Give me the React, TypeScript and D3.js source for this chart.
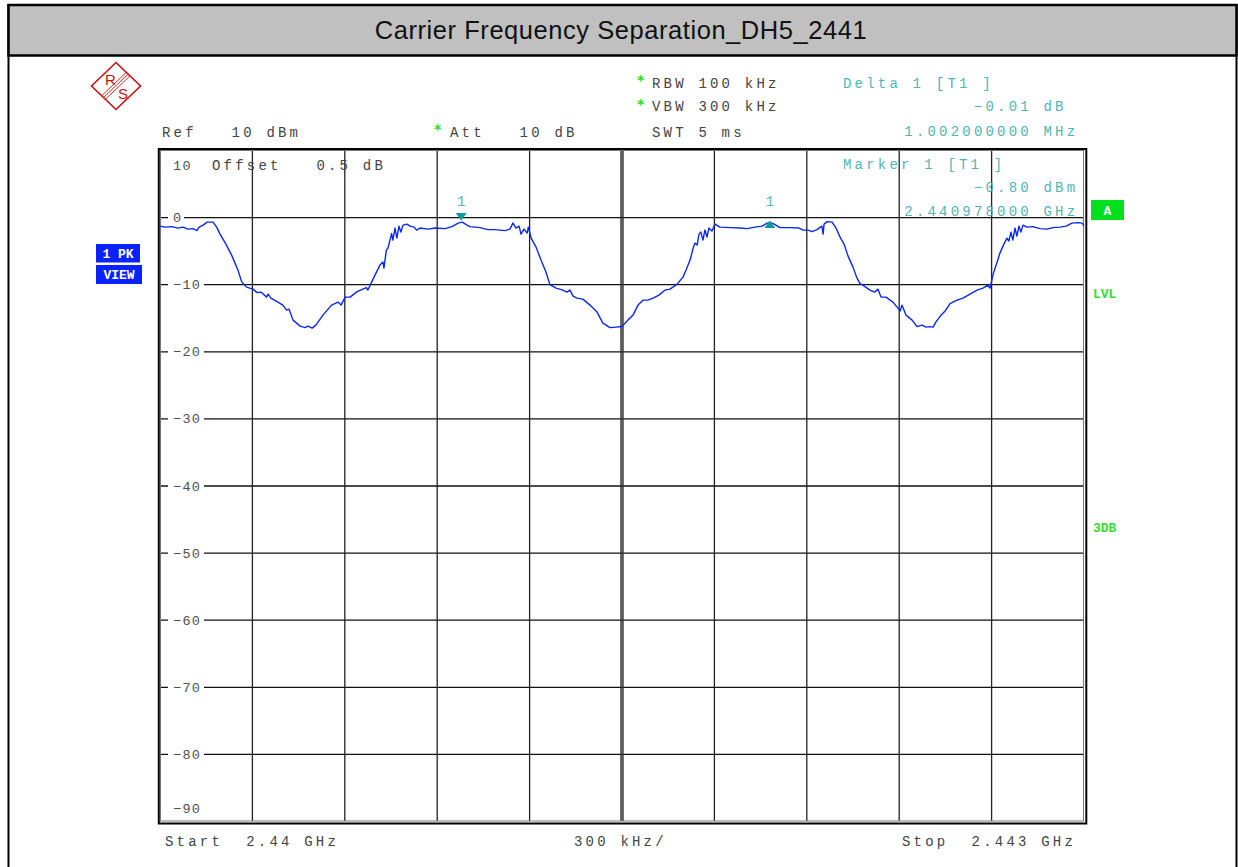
import * as d3 from "d3";
import { useEffect, useRef } from "react";

const title = "Carrier Frequency Separation_DH5_2441";

// sweep settings
const startGHz = 2.44;
const spanMHz = 3;
const refDbm = 10;
const bottomDbm = -90;
const levelGrid = [0, -10, -20, -30, -40, -50, -60, -70, -80];
const freqGridMHz = [0.3, 0.6, 0.9, 1.2, 1.5, 1.8, 2.1, 2.4, 2.7];

// trace (offset from start in MHz, level in dBm)
const traceMHz = [
  0, 0.016, 0.039, 0.058, 0.075, 0.091, 0.107, 0.12, 0.127, 0.14, 0.153, 0.172, 0.184, 0.195, 0.214, 0.234,
  0.253, 0.265, 0.281, 0.302, 0.315, 0.328, 0.346, 0.351, 0.36, 0.38, 0.399, 0.411, 0.419, 0.432, 0.455, 0.471,
  0.481, 0.494, 0.506, 0.529, 0.557, 0.578, 0.588, 0.601, 0.617, 0.64, 0.67, 0.675, 0.687, 0.714, 0.724, 0.727,
  0.735, 0.74, 0.752, 0.756, 0.763, 0.769, 0.776, 0.782, 0.789, 0.802, 0.812, 0.825, 0.833, 0.844, 0.87, 0.893,
  0.925, 0.948, 0.968, 0.981, 0.997, 1.006, 1.039, 1.065, 1.088, 1.12, 1.136, 1.146, 1.156, 1.166, 1.172, 1.182,
  1.192, 1.196, 1.205, 1.221, 1.237, 1.253, 1.266, 1.286, 1.308, 1.321, 1.331, 1.341, 1.354, 1.373, 1.396, 1.419,
  1.438, 1.461, 1.481, 1.5, 1.519, 1.536, 1.552, 1.568, 1.584, 1.601, 1.62, 1.64, 1.656, 1.679, 1.698, 1.708,
  1.721, 1.731, 1.737, 1.744, 1.75, 1.756, 1.763, 1.769, 1.776, 1.782, 1.792, 1.802, 1.818, 1.851, 1.883, 1.906,
  1.932, 1.955, 1.971, 1.981, 1.994, 2.013, 2.045, 2.075, 2.088, 2.104, 2.117, 2.133, 2.149, 2.153, 2.156, 2.166,
  2.182, 2.195, 2.208, 2.221, 2.234, 2.25, 2.263, 2.273, 2.282, 2.305, 2.321, 2.331, 2.341, 2.357, 2.38, 2.396,
  2.403, 2.409, 2.422, 2.442, 2.458, 2.474, 2.487, 2.5, 2.51, 2.519, 2.532, 2.549, 2.565, 2.588, 2.607, 2.63,
  2.653, 2.672, 2.688, 2.695, 2.705, 2.718, 2.727, 2.74, 2.75, 2.756, 2.763, 2.769, 2.776, 2.782, 2.789, 2.795,
  2.802, 2.815, 2.834, 2.857, 2.88, 2.899, 2.922, 2.942, 2.961, 2.981, 2.994, 3.0,
];
const traceDbm = [
  -1.27, -1.42, -1.34, -1.56, -1.42, -1.71, -1.64, -1.94, -1.42, -1.12, -0.67, -0.67, -1.42, -2.46, -3.95, -5.74,
  -7.82, -9.54, -10.36, -10.66, -11.18, -11.1, -11.85, -11.4, -12.0, -12.52, -13.04, -13.79, -13.64, -15.28, -16.17, -16.39,
  -16.17, -16.47, -16.02, -14.53, -13.04, -12.59, -13.04, -11.85, -11.85, -11.03, -10.43, -10.8, -9.61, -7.08, -6.63, -7.53,
  -4.84, -4.55, -2.38, -3.35, -1.56, -3.06, -1.27, -2.16, -1.12, -0.97, -1.27, -1.42, -1.86, -1.56, -1.71, -1.56,
  -1.64, -1.34, -0.82, -0.67, -1.12, -1.34, -1.49, -1.79, -1.79, -1.94, -1.71, -0.82, -1.56, -1.27, -2.46, -1.71,
  -2.31, -1.42, -3.06, -4.4, -6.33, -8.12, -9.99, -10.51, -10.8, -11.1, -10.8, -11.7, -12.0, -12.15, -13.04, -14.08,
  -15.72, -16.39, -16.32, -16.24, -15.28, -14.53, -13.04, -12.3, -12.3, -12.0, -11.55, -10.8, -10.66, -9.91, -8.87, -7.82,
  -6.33, -4.55, -3.8, -4.1, -2.46, -2.16, -3.35, -1.86, -2.9, -1.56, -2.01, -0.97, -1.42, -1.49, -1.56, -1.64,
  -1.42, -1.27, -0.82, -0.75, -0.97, -1.49, -1.49, -1.56, -1.86, -1.86, -2.09, -1.79, -1.27, -2.46, -0.97, -0.6,
  -0.67, -1.56, -2.91, -3.95, -5.74, -7.38, -9.02, -9.84, -10.06, -10.8, -11.1, -10.66, -11.85, -11.85, -12.59, -13.49,
  -13.93, -13.04, -14.53, -15.28, -16.24, -16.02, -16.32, -16.24, -16.32, -15.57, -14.75, -13.93, -12.82, -12.3, -12.0, -11.4,
  -10.8, -10.51, -10.06, -10.51, -8.42, -6.63, -5.29, -3.95, -3.06, -3.5, -2.16, -3.35, -1.56, -2.76, -1.27, -2.16,
  -1.12, -1.42, -1.34, -1.64, -1.71, -1.49, -1.42, -1.27, -0.82, -0.75, -0.82, -1.19,
];

// markers: marker 1 and delta 1
const markerMHz = [0.978, 1.98];
const markerDbm = [-0.8, -0.81];
const markerDir = ["down", "up"];

const setupLines = ["RBW 100 kHz", "VBW 300 kHz", "SWT 5 ms"];
const deltaLines = ["Delta 1 [T1 ]", "-0.01 dB", "1.002000000 MHz"];
const markerLines = ["Marker 1 [T1 ]", "-0.80 dBm", "2.440978000 GHz"];

const MONO = "'Liberation Mono', 'DejaVu Sans Mono', monospace";

export default function App() {
  const ref = useRef<SVGSVGElement>(null);

  useEffect(() => {
    if (!ref.current) return;
    const el = ref.current;
    d3.select(el).selectAll("*").remove();

    const W = 1238;
    const H = 867;
    const grey = "#444";
    const teal = "#4fb6b6";
    const green = "#1edc1e";

    const svg = d3.select(el).attr("width", W).attr("height", H).attr("viewBox", `0 0 ${W} ${H}`);
    svg.append("rect").attr("width", W).attr("height", H).attr("fill", "#fff");

    const mono = (x: number, y: number, s: string, color = grey, size = 14) =>
      svg
        .append("text")
        .attr("x", x)
        .attr("y", y)
        .attr("fill", color)
        .attr("font-family", MONO)
        .attr("font-size", size)
        .attr("letter-spacing", 3.2)
        .style("white-space", "pre")
        .text(s.replace(/-/g, "\u2212"));

    // outer frame + title bar
    svg.append("line").attr("x1", 8.5).attr("x2", 8.5).attr("y1", 4).attr("y2", H).attr("stroke", "#000").attr("stroke-width", 2);
    svg.append("line").attr("x1", 1236.5).attr("x2", 1236.5).attr("y1", 4).attr("y2", H).attr("stroke", "#000").attr("stroke-width", 2);
    svg.append("rect").attr("x", 8.5).attr("y", 5).attr("width", 1228).attr("height", 50.5)
      .attr("fill", "#c0c0c0").attr("stroke", "#000").attr("stroke-width", 2.5);
    svg.append("text").attr("x", 621).attr("y", 39).attr("text-anchor", "middle")
      .attr("font-family", "'Liberation Sans', Arial, sans-serif").attr("font-size", 25.5)
      .attr("letter-spacing", 0.55).attr("fill", "#111").text(title);

    // R&S logo
    const logo = svg.append("g").attr("transform", "translate(116,86)");
    const red = "#cc1111";
    logo.append("path").attr("d", "M0,-23.5L24.5,0L0,23.5L-24.5,0Z").attr("fill", "#fff").attr("stroke", red).attr("stroke-width", 1.6);
    [-1.8, 0, 1.8].forEach(o => {
      logo.append("line").attr("x1", 12.3 + o).attr("y1", -12 + o).attr("x2", -12.5 + o).attr("y2", 11.5 + o)
        .attr("stroke", red).attr("stroke-width", 0.9);
    });
    logo.append("text").attr("x", -11).attr("y", -1).attr("fill", red).attr("font-family", "'Liberation Sans', sans-serif").attr("font-size", 15).text("R");
    logo.append("text").attr("x", 2).attr("y", 13).attr("fill", red).attr("font-family", "'Liberation Sans', sans-serif").attr("font-size", 15).text("S");

    // header texts
    mono(162, 136.5, "Ref   10 dBm");
    const star = (x: number, y: number) =>
      svg.append("text").attr("x", x).attr("y", y).attr("fill", green).attr("font-family", "'DejaVu Sans', sans-serif")
        .attr("font-size", 14).attr("font-weight", 700).text("*");
    star(434, 134);
    mono(450, 136.5, "Att   10 dB");
    const rowY = [87.5, 111, 136.5];
    setupLines.forEach((s, i) => {
      if (i < 2) star(637, rowY[i] - 2.5);
      mono(652, rowY[i], s);
    });
    const col = 11.6;
    const placeRight = (lines: string[], ys: number[], unitX: number, x0: number) => {
      mono(x0, ys[0], lines[0], teal);
      lines.slice(1).forEach((s, i) => {
        const num = s.split(" ")[0];
        mono(unitX - (num.length + 1) * col, ys[i + 1], s, teal);
      });
    };
    placeRight(deltaLines, [88, 111, 136], 1043.5, 843);

    // plot area
    const x = d3.scaleLinear().domain([0, spanMHz]).range([160, 1084]);
    const y = d3.scaleLinear().domain([bottomDbm, refDbm]).range([821.5, 150.5]);

    const g = svg.append("g");
    g.selectAll(".hgrid").data(levelGrid).join("line")
      .attr("x1", 160).attr("x2", 1084).attr("y1", d => y(d)).attr("y2", d => y(d))
      .attr("stroke", "#111").attr("stroke-width", 1.3);
    g.selectAll(".vgrid").data(freqGridMHz).join("line")
      .attr("x1", d => x(d)).attr("x2", d => x(d)).attr("y1", 150).attr("y2", 821)
      .attr("stroke", "#222").attr("stroke-width", 1.3);
    // centre line is drawn double
    [-1.2, 1.2].forEach(o => {
      g.append("line").attr("x1", x(spanMHz / 2) + o).attr("x2", x(spanMHz / 2) + o).attr("y1", 150).attr("y2", 821)
        .attr("stroke", "#333").attr("stroke-width", 1);
    });

    // frame (double line)
    g.append("rect").attr("x", 160.5).attr("y", 150.5).attr("width", 923).attr("height", 670.5)
      .attr("fill", "none").attr("stroke", "#777").attr("stroke-width", 1);
    g.append("rect").attr("x", 158.8).attr("y", 149).attr("width", 927.5).attr("height", 674.5)
      .attr("fill", "none").attr("stroke", "#000").attr("stroke-width", 2);

    // level labels
    const levelLabel = (v: number, yy: number, gap: boolean) => {
      const s = v < 0 ? `\u2212${-v}` : `${v}`;
      if (gap) {
        g.append("rect").attr("x", 168).attr("y", yy - 6).attr("width", s.length * 10 + 6).attr("height", 12).attr("fill", "#fff");
      }
      g.append("text").attr("x", 173).attr("y", yy + 4.5).attr("fill", "#505050").attr("font-family", MONO)
        .attr("font-size", 13.5).attr("letter-spacing", 1.3).text(s);
    };
    levelGrid.forEach(v => levelLabel(v, y(v), true));
    levelLabel(refDbm, 165, false);
    levelLabel(bottomDbm, 808, false);
    mono(212, 169.5, "Offset   0.5 dB");

    // marker readout sits over the grid
    placeRight(markerLines, [168.5, 191.5, 216], 1043.5, 843);

    // trace
    const line = d3.line<number>().x((_, i) => x(traceMHz[i])).y(d => y(d));
    g.append("path").datum(traceDbm).attr("d", line).attr("fill", "none")
      .attr("stroke", "#0a28f5").attr("stroke-width", 1.4).attr("stroke-linejoin", "round");

    // markers
    markerMHz.forEach((m, i) => {
      const mx = x(m);
      const my = y(markerDbm[i]);
      const d = markerDir[i] === "down"
        ? `M${mx - 5.5},${my - 10}L${mx + 5.5},${my - 10}L${mx},${my - 2.5}Z`
        : `M${mx - 5.5},${my + 5}L${mx + 5.5},${my + 5}L${mx},${my - 2.5}Z`;
      g.append("path").attr("d", d).attr("fill", "#0a9a9a");
      g.append("text").attr("x", mx).attr("y", 205.5).attr("text-anchor", "middle").attr("fill", teal)
        .attr("font-family", MONO).attr("font-size", 14).text("1");
    });

    // side badges
    const badge = (bx: number, by: number, w: number, h: number, fill: string, s: string) => {
      svg.append("rect").attr("x", bx).attr("y", by).attr("width", w).attr("height", h).attr("fill", fill);
      svg.append("text").attr("x", bx + w / 2).attr("y", by + h / 2 + 4.5).attr("text-anchor", "middle")
        .attr("fill", "#fff").attr("font-family", MONO).attr("font-size", 13).attr("font-weight", 700).text(s);
    };
    badge(96, 244, 44, 18.5, "#0a22ff", "1 PK");
    badge(96, 265, 46, 19, "#0a22ff", "VIEW");
    badge(1091, 200, 33, 20, "#00e01c", "A");
    const sideLabel = (yy: number, s: string) =>
      svg.append("text").attr("x", 1093).attr("y", yy).attr("fill", "#33dd33").attr("font-family", MONO)
        .attr("font-size", 13).attr("font-weight", 700).text(s);
    sideLabel(298, "LVL");
    sideLabel(532, "3DB");

    // bottom annotation
    mono(165, 846, "Start  2.44 GHz");
    mono(574, 846, "300 kHz/");
    mono(902, 846, "Stop  2.443 GHz");
  }, []);

  return (
    <div style={{ position: "absolute", left: 0, top: 0 }}>
      <svg ref={ref} style={{ display: "block" }} />
    </div>
  );
}
